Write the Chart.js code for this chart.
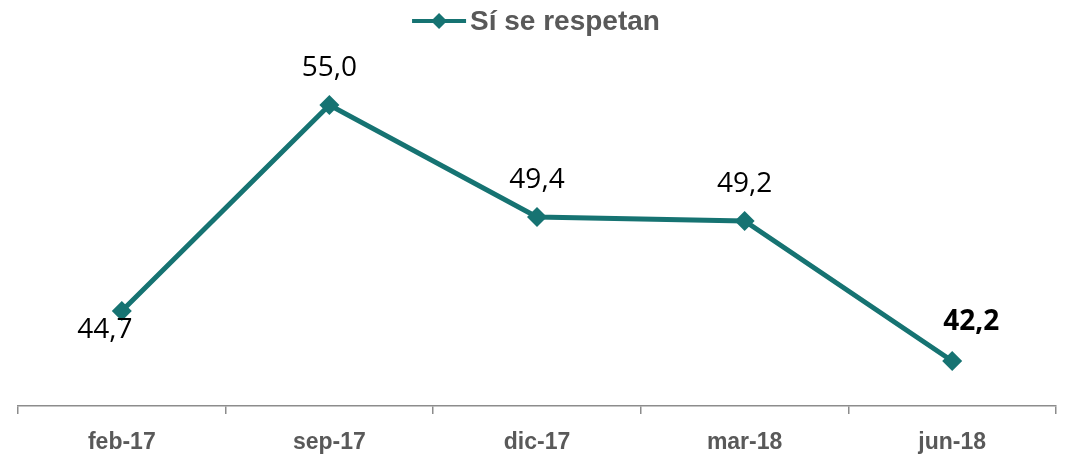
<!DOCTYPE html>
<html lang="es">
<head>
<meta charset="utf-8">
<title>Sí se respetan</title>
<script src="https://cdn.jsdelivr.net/npm/chart.js@4.4.1/dist/chart.umd.min.js"></script>
<style>
  html, body { margin: 0; padding: 0; background: #fff; }
</style>
</head>
<body>
<canvas id="lineChart" width="1066" height="456"></canvas>
<script>
// data
var periods = ["feb-17", "sep-17", "dic-17", "mar-18", "jun-18"];
var siSeRespetan = [44.7, 55.0, 49.4, 49.2, 42.2];
var seriesName = "Sí se respetan";

var teal = "#167372";
var narrow = "'Liberation Sans Narrow', 'Arial Narrow', 'Liberation Sans', sans-serif";
var labelFont = "'Open Sans', 'Noto Sans', sans-serif";

function drawDiamond(ctx, x, y, r) {
    ctx.beginPath();
    ctx.moveTo(x, y - r);
    ctx.lineTo(x + r, y);
    ctx.lineTo(x, y + r);
    ctx.lineTo(x - r, y);
    ctx.closePath();
    ctx.fill();
}

// legend: line + diamond, then bold grey text, centred on top
var topLegend = {
    id: 'topLegend',
    afterDraw: function (chart) {
        var ctx = chart.ctx;
        ctx.save();
        ctx.font = "bold 28px " + narrow;
        var tw = ctx.measureText(seriesName).width;
        var lineLen = 54, gap = 4;
        var total = lineLen + gap + tw;
        var x0 = chart.width / 2 - total / 2 + 3;
        var y = 21;
        ctx.strokeStyle = teal;
        ctx.fillStyle = teal;
        ctx.lineWidth = 4;
        ctx.beginPath();
        ctx.moveTo(x0, y);
        ctx.lineTo(x0 + lineLen, y);
        ctx.stroke();
        drawDiamond(ctx, x0 + lineLen / 2, y, 8);
        ctx.fillStyle = "#595959";
        ctx.textBaseline = "middle";
        ctx.textAlign = "left";
        ctx.fillText(seriesName, x0 + lineLen + gap, y + 1);
        ctx.restore();
    }
};

// value labels next to each point
var valueLabels = {
    id: 'valueLabels',
    afterDatasetsDraw: function (chart) {
        var ctx = chart.ctx;
        var meta = chart.getDatasetMeta(0);
        var last = meta.data.length - 1;
        ctx.save();
        ctx.fillStyle = "#000";
        ctx.textAlign = "center";
        ctx.textBaseline = "middle";
        meta.data.forEach(function (pt, i) {
            var dx = 0, dy = -37;
            if (i === 0) { dx = -17; dy = 19; }
            if (i === last) { dx = 19; dy = -39; }
            ctx.font = (i === last ? "bold " : "") + "28px " + labelFont;
            var txt = siSeRespetan[i].toFixed(1).replace(".", ",");
            ctx.fillText(txt, pt.x + dx, pt.y + dy);
        });
        ctx.restore();
    }
};

new Chart(document.getElementById("lineChart"), {
    type: 'line',
    data: {
        labels: periods,
        datasets: [{
            label: seriesName,
            data: siSeRespetan,
            borderColor: teal,
            backgroundColor: teal,
            borderWidth: 5,
            pointStyle: 'rectRot',
            pointRadius: 10,
            pointHoverRadius: 10,
            pointBorderWidth: 0,
            tension: 0,
            fill: false
        }]
    },
    options: {
        responsive: false,
        animation: false,
        layout: { padding: { left: 18, right: 10, top: 10, bottom: 0 } },
        plugins: {
            legend: { display: false },
            tooltip: { enabled: false }
        },
        scales: {
            x: {
                offset: true,
                afterFit: function (scale) { scale.height = 50; },
                grid: {
                    offset: true,
                    drawOnChartArea: false,
                    drawTicks: true,
                    tickLength: 8,
                    color: "#8c8c8c",
                    lineWidth: 1.5
                },
                border: { color: "#8c8c8c", width: 1.5 },
                ticks: {
                    color: "#595959",
                    padding: 15,
                    font: { family: narrow, size: 23, weight: 'bold' }
                }
            },
            y: {
                display: false,
                min: 39.95,
                max: 59.75
            }
        }
    },
    plugins: [topLegend, valueLabels]
});
</script>
</body>
</html>
